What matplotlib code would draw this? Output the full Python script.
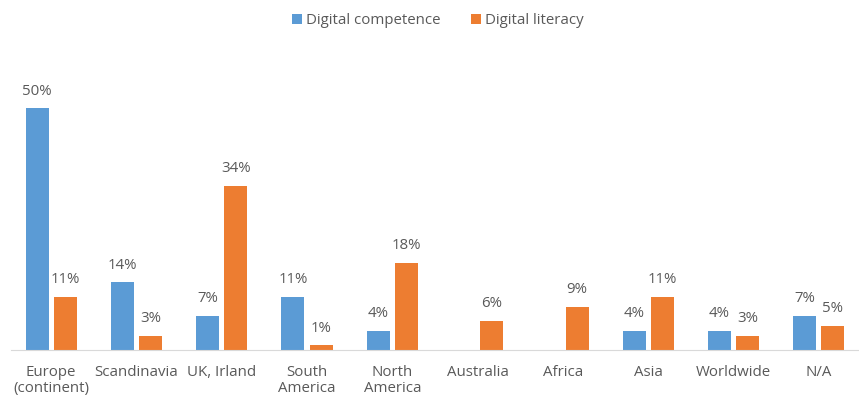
import matplotlib.pyplot as plt
import numpy as np

regions = ['Europe\n(continent)', 'Scandinavia', 'UK, Irland', 'South\nAmerica',
           'North\nAmerica', 'Australia', 'Africa', 'Asia', 'Worldwide', 'N/A']
competence = [50, 14, 7, 11, 4, 0, 0, 4, 4, 7]
literacy = [11, 3, 34, 1, 18, 6, 9, 11, 3, 5]

BLUE = '#5B9BD5'
ORANGE = '#ED7D31'
GREY = '#595959'

plt.rcParams['font.family'] = ['Open Sans', 'DejaVu Sans']

fig = plt.figure(figsize=(8.59, 4.01), dpi=100)
ax = fig.add_axes([11 / 859, 51 / 401, 848 / 859, 290 / 401])

x = np.arange(len(regions))
w = 0.27
off = 0.165
b1 = ax.bar(x - off, competence, w, color=BLUE, label='Digital competence')
b2 = ax.bar(x + off, literacy, w, color=ORANGE, label='Digital literacy')

# value labels, skip empty bars
for bars, vals in ((b1, competence), (b2, literacy)):
    for bar, v in zip(bars, vals):
        if v == 0:
            continue
        ax.text(bar.get_x() + bar.get_width() / 2, v + 2.0, f'{v}%',
                ha='center', va='bottom', fontsize=10.8, color=GREY)

ax.set_xlim(-0.47, 9.47)
ax.set_ylim(0, 60)
ax.set_xticks(x)
ax.set_xticklabels(regions, fontsize=10.8, color=GREY, linespacing=1.1)
ax.tick_params(axis='x', length=0, pad=11)
ax.set_yticks([])
for side in ('top', 'right', 'left'):
    ax.spines[side].set_visible(False)
ax.spines['bottom'].set_color('#D9D9D9')

fig.legend(loc='center', bbox_to_anchor=(438 / 859, 1 - 21 / 401), ncol=2,
           frameon=False, fontsize=10.8, labelcolor=GREY, handlelength=0.65,
           handleheight=0.65, handletextpad=0.3, columnspacing=2.0)

fig.savefig('out.png', dpi=100)
